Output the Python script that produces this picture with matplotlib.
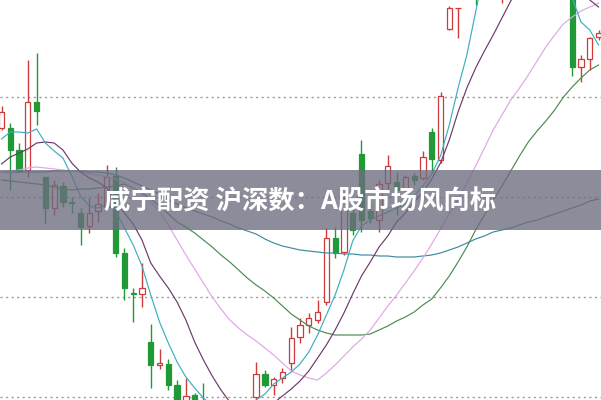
import numpy as np
import matplotlib
matplotlib.use("Agg")
import matplotlib.pyplot as plt
from matplotlib.patches import Rectangle

nan = np.nan
# OHLC per trading day (price)
opens = [11.69, 11.69, 11.47, 11.27, 11.95, 11.20, 10.89, 11.11, 10.95, 10.84,
         10.71, 10.86, 10.90, 11.21, 10.44, 10.04, 10.03, 9.55, 9.32, 9.33,
         9.12, 8.87, 9.02, 8.92, nan, nan, nan, nan, nan, 9.00,
         9.23, 9.12, 9.19, 9.34, 9.60, 9.72, 9.77, 9.95, 10.59, 10.45,
         10.84, 11.43, 10.86, 10.77, 11.14, 11.15, 11.09, 11.21, 11.19, 11.65,
         11.37, 12.68, 12.89, nan, 13.32, nan, nan, 13.17, nan, nan,
         nan, nan, nan, nan, nan, 13.27, 12.30, 12.38, 12.60]
closes = [11.85, 11.47, 11.26, 11.95, 11.86, 10.89, 11.12, 10.95, 10.94, 10.70,
          10.84, 10.93, 11.20, 10.44, 10.09, 10.03, 10.09, 9.32, 9.34, 9.12,
          8.89, 9.01, 8.85, 8.77, nan, nan, nan, nan, nan, 9.23,
          9.12, 9.18, 9.25, 9.59, 9.72, 9.79, 9.85, 10.59, 10.44, 10.99,
          10.67, 10.77, 10.79, 11.13, 11.31, 11.07, 11.20, 11.17, 11.40, 11.38,
          12.01, 12.89, 12.89, nan, 13.12, nan, nan, 13.42, nan, nan,
          nan, nan, nan, nan, nan, 12.30, 12.38, 12.59, 12.64]
highs = [11.91, 11.74, 11.54, 12.37, 12.44, 11.20, 11.17, 11.15, 11.00, 10.89,
         10.99, 11.04, 11.32, 11.30, 10.49, 10.09, 10.34, 9.73, 9.48, 9.38,
         9.17, 9.19, 9.04, 9.14, nan, nan, nan, nan, nan, 9.35,
         9.27, 9.20, 9.29, 9.70, 9.79, 9.84, 9.97, 10.69, 10.70, 11.04,
         10.89, 11.57, 10.94, 11.17, 11.42, 11.25, 11.22, 11.24, 11.46, 11.69,
         12.05, 12.91, 12.89, nan, 13.42, nan, nan, 13.52, nan, nan,
         nan, nan, nan, nan, nan, 13.32, 12.42, 12.60, 12.67]
lows = [11.67, 11.07, 11.25, 11.20, 11.72, 10.74, 10.82, 10.90, 10.84, 10.52,
        10.64, 10.75, 10.89, 10.40, 9.97, 9.75, 9.90, 9.09, 9.28, 9.07,
        8.82, 8.85, 8.79, 8.72, nan, nan, nan, nan, nan, 8.95,
        9.10, 9.02, 9.14, 9.27, 9.54, 9.64, 9.74, 9.92, 10.39, 10.42,
        10.62, 10.65, 10.74, 10.65, 11.05, 10.82, 11.05, 11.12, 11.17, 11.24,
        11.34, 12.67, 12.59, nan, 12.92, nan, nan, 12.94, nan, nan,
        nan, nan, nan, nan, nan, 12.21, 12.15, 12.27, 12.57]

# moving-average lines (price per day)
ma5 = [11.58, 11.65, 11.65, 11.64, 11.68, 11.54, 11.46, 11.39, 11.21, 11.01,
       10.91, 10.89, 10.92, 10.86, 10.69, 10.52, 10.31, 10.02, 9.75, 9.54,
       9.35, 9.20, 9.09, 8.99, 8.91, 8.87, 8.85, 8.87, 8.91, 8.97,
       9.03, 9.13, 9.19, 9.25, 9.33, 9.45, 9.62, 9.82, 10.02, 10.27,
       10.56, 10.71, 10.77, 10.81, 10.85, 10.89, 10.93, 11.01, 11.11, 11.23,
       11.41, 11.72, 12.09, 12.42, 12.85, 13.27, 13.57, 13.77, 13.87, 13.87,
       13.77, 13.67, 13.52, 13.32, 13.12, 12.99, 12.75, 12.67, 12.52]
ma10 = [11.33, 11.40, 11.44, 11.48, 11.54, 11.55, 11.54, 11.47, 11.34, 11.25,
        11.19, 11.15, 11.09, 10.95, 10.84, 10.73, 10.57, 10.34, 10.21, 10.09,
        9.95, 9.77, 9.55, 9.37, 9.21, 9.07, 8.95, 8.87, 8.83, 8.83,
        8.87, 8.94, 9.01, 9.08, 9.16, 9.26, 9.39, 9.52, 9.67, 9.84,
        10.03, 10.21, 10.35, 10.50, 10.61, 10.75, 10.84, 10.95, 11.05, 11.18,
        11.34, 11.57, 11.85, 12.09, 12.29, 12.46, 12.62, 12.79, 12.96, 13.09,
        13.19, 13.27, 13.32, 13.32, 13.29, 13.22, 13.12, 12.97, 12.90]
ma20 = [11.25, 11.26, 11.27, 11.29, 11.30, 11.29, 11.28, 11.27, 11.26, 11.25,
        11.23, 11.22, 11.20, 11.18, 11.14, 11.09, 11.03, 10.95, 10.86, 10.72,
        10.57, 10.42, 10.28, 10.14, 10.00, 9.88, 9.77, 9.69, 9.62, 9.56,
        9.49, 9.42, 9.34, 9.26, 9.22, 9.19, 9.17, 9.24, 9.32, 9.41,
        9.50, 9.58, 9.67, 9.79, 9.91, 10.02, 10.14, 10.26, 10.39, 10.53,
        10.68, 10.83, 10.98, 11.14, 11.31, 11.49, 11.67, 11.82, 11.97, 12.09,
        12.22, 12.36, 12.50, 12.62, 12.73, 12.80, 12.86, 12.90, 12.94]
ma30 = [11.17, 11.16, 11.15, 11.14, 11.13, 11.12, 11.10, 11.08, 11.07, 11.08,
        11.08, 11.09, 11.10, 11.11, 11.13, 11.09, 11.04, 10.98, 10.91, 10.83,
        10.75, 10.70, 10.64, 10.57, 10.50, 10.42, 10.35, 10.27, 10.19, 10.12,
        10.06, 9.99, 9.91, 9.83, 9.77, 9.71, 9.67, 9.64, 9.62, 9.62,
        9.62, 9.62, 9.63, 9.67, 9.71, 9.76, 9.80, 9.85, 9.92, 9.98,
        10.09, 10.21, 10.35, 10.50, 10.67, 10.82, 10.97, 11.11, 11.26, 11.41,
        11.55, 11.66, 11.76, 11.87, 12.00, 12.10, 12.19, 12.27, 12.32]
ma60 = [11.25, 11.25, 11.25, 11.25, 11.25, 11.25, 11.26, 11.26, 11.26, 11.26,
        11.25, 11.25, 11.24, 11.22, 11.19, 11.15, 11.11, 11.07, 11.03, 10.97,
        10.93, 10.89, 10.86, 10.83, 10.80, 10.76, 10.73, 10.69, 10.66, 10.63,
        10.58, 10.54, 10.51, 10.49, 10.47, 10.46, 10.45, 10.44, 10.44, 10.43,
        10.43, 10.42, 10.42, 10.41, 10.41, 10.40, 10.40, 10.40, 10.41, 10.42,
        10.44, 10.47, 10.50, 10.54, 10.58, 10.61, 10.65, 10.67, 10.69, 10.72,
        10.75, 10.77, 10.80, 10.83, 10.86, 10.89, 10.92, 10.96, 10.98]

grid_levels = [9.0, 10.0, 11.0, 12.0]
title = "咸宁配资 沪深数：A股市场风向标"

UP = "#cf3b3b"
DOWN = "#1f9a37"

fig = plt.figure(figsize=(6.01, 4.00), dpi=100)
ax = fig.add_axes([0, 0, 1, 1])
ax.set_xlim(-0.171, 68.28)
ax.set_ylim(8.97, 12.97)
ax.axis("off")

for g in grid_levels:
    ax.axhline(g, color="#9a9a9a", lw=1.0, ls=(0, (1.5, 2.5)), zorder=0)

w = 0.6
for i in range(len(opens)):
    o, c, h, l = opens[i], closes[i], highs[i], lows[i]
    if any(np.isnan(v) for v in (o, c, h, l)):
        continue
    up = c >= o
    col = UP if up else DOWN
    ax.vlines(i, l, h, color=col, lw=1.0, zorder=1)
    bot, top = min(o, c), max(o, c)
    ax.add_patch(Rectangle((i - w / 2, bot), w, max(top - bot, 0.0001),
                           facecolor="white" if up else col,
                           edgecolor=col, lw=0.9, zorder=2))

lines = [(ma60, "#3f8a9f"), (ma30, "#4c8a52"), (ma20, "#e0a6e6"),
         (ma10, "#6c3a6a"), (ma5, "#3aafc0")]
for arr, col in lines:
    ax.plot(np.arange(len(arr)), arr, color=col, lw=0.85, zorder=3)

ax.add_patch(Rectangle((0, 1 - 230 / 400), 1, 60 / 400, transform=ax.transAxes,
                       facecolor="#6c6c7e", alpha=0.78, edgecolor="none", zorder=5))
ax.text(0.5, 1 - 202 / 400, title, transform=ax.transAxes, ha="center",
        va="center", color="white", fontsize=19, fontweight="bold",
        family=["Noto Sans CJK SC", "DejaVu Sans"], zorder=6)

fig.savefig("out.png", dpi=100)
